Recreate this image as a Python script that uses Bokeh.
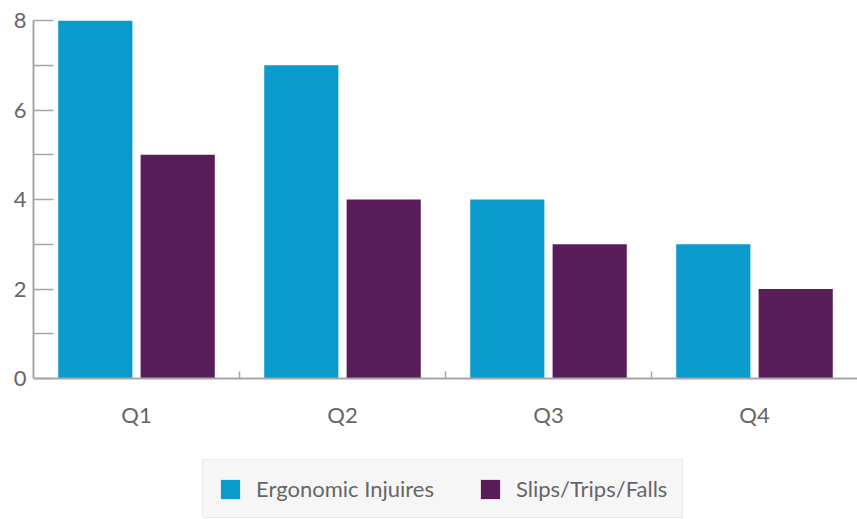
from bokeh.plotting import figure
from bokeh.models import FixedTicker, Legend, LegendItem, ColumnDataSource
from bokeh.layouts import column
from bokeh.transform import dodge
from bokeh.embed import file_html
from bokeh.resources import INLINE

categories = ["Q1", "Q2", "Q3", "Q4"]
ergonomic = [8, 7, 4, 3]
slips = [5, 4, 3, 2]
series_names = ["Ergonomic Injuires", "Slips/Trips/Falls"]
y_ticks = [0, 2, 4, 6, 8]
y_minor = [1, 3, 5, 7]

BLUE = "#0a9acb"
PURPLE = "#581d58"
GREY_TXT = "#666666"
AXIS = "#a6a6a6"
FONT = "Lato"

centers = [i + 0.5 for i in range(len(categories))]
bounds = [i for i in range(1, len(categories))]
src = ColumnDataSource(dict(x=centers, cat=categories, erg=ergonomic, sl=slips))

p = figure(width=857, height=438, x_range=(0, len(categories)), y_range=(0, 8),
           output_backend="svg", toolbar_location=None,
           min_border_top=20, min_border_left=33, min_border_right=0, min_border_bottom=60)
p.outline_line_color = None
p.xgrid.visible = False
p.ygrid.visible = False

p.vbar(x=dodge("x", -0.2), top="erg", width=0.36, source=src, fill_color=BLUE, line_color=None)
p.vbar(x=dodge("x", 0.2), top="sl", width=0.36, source=src, fill_color=PURPLE, line_color=None)

# y axis
ya = p.yaxis[0]
ya.ticker = FixedTicker(ticks=y_ticks, minor_ticks=y_minor)
ya.axis_line_color = AXIS
ya.axis_line_width = 2
ya.major_tick_in = 20
ya.major_tick_out = 0
ya.minor_tick_in = 20
ya.minor_tick_out = 0
ya.major_tick_line_color = AXIS
ya.minor_tick_line_color = AXIS
ya.major_tick_line_width = 1.5
ya.minor_tick_line_width = 1.5
ya.major_label_text_font = FONT
ya.major_label_text_font_size = "22px"
ya.major_label_text_color = GREY_TXT
ya.major_label_standoff = 7

# x axis
xa = p.xaxis[0]
xa.ticker = FixedTicker(ticks=centers, minor_ticks=bounds)
xa.major_label_overrides = {c: cat for c, cat in zip(centers, categories)}
xa.axis_line_color = AXIS
xa.axis_line_width = 2
xa.major_tick_in = 0
xa.major_tick_out = 0
xa.minor_tick_in = 7
xa.minor_tick_out = 0
xa.minor_tick_line_color = AXIS
xa.minor_tick_line_width = 1.5
xa.major_label_text_font = FONT
xa.major_label_text_font_size = "22px"
xa.major_label_text_color = GREY_TXT
xa.major_label_standoff = 22

# legend in its own strip below the chart (series glyphs lie outside its view)
p2 = figure(width=857, height=81, x_range=(0, len(categories)), y_range=(100, 101),
            output_backend="svg", toolbar_location=None,
            x_axis_location=None, y_axis_location=None, min_border=0)
p2.outline_line_color = None
p2.xgrid.visible = False
p2.ygrid.visible = False
k1 = p2.vbar(x=dodge("x", -0.2), top="erg", width=0.36, source=src, fill_color=BLUE, line_color=None)
k2 = p2.vbar(x=dodge("x", 0.2), top="sl", width=0.36, source=src, fill_color=PURPLE, line_color=None)

legend = Legend(items=[LegendItem(label=series_names[0], renderers=[k1]),
                       LegendItem(label=series_names[1], renderers=[k2])],
                orientation="horizontal", location=(169, 1))
legend.glyph_width = 24
legend.glyph_height = 24
legend.label_height = 24
legend.label_standoff = 14
legend.spacing = 44
legend.padding = 15
legend.margin = 0
legend.label_text_font = FONT
legend.label_text_font_size = "22px"
legend.label_text_color = GREY_TXT
legend.background_fill_color = "#f6f6f6"
legend.border_line_color = "#dddddd"
legend.border_line_width = 1.5
p2.add_layout(legend, "center")

layout = column(p, p2, spacing=0)
open("out.html", "w").write(file_html(layout, INLINE))
